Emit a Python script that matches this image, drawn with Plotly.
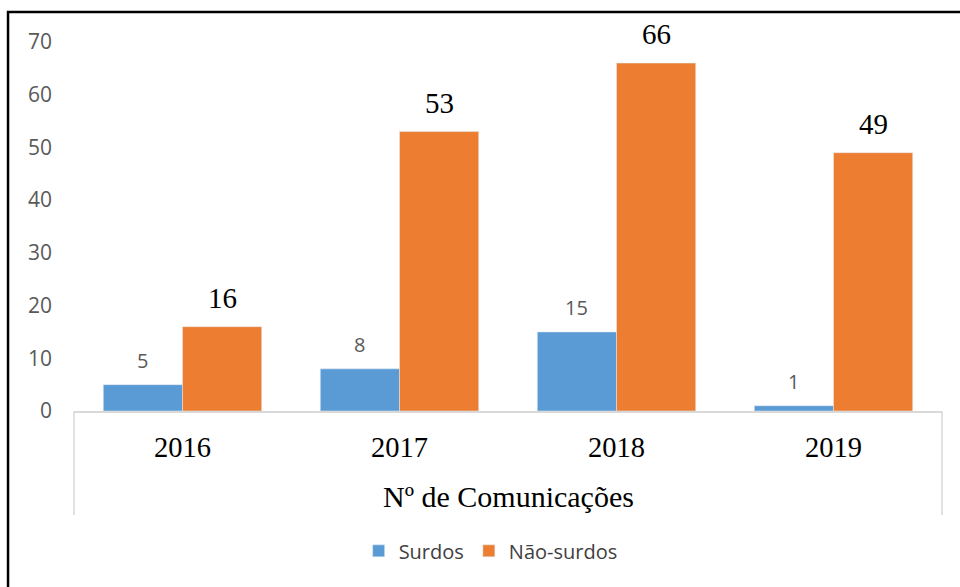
import plotly.graph_objects as go

years = ["2016", "2017", "2018", "2019"]
surdos = [5, 8, 15, 1]
nao_surdos = [16, 53, 66, 49]
y_ticks = [0, 10, 20, 30, 40, 50, 60, 70]
x_title = "Nº de Comunicações"

BLUE = "#5B9BD5"
ORANGE = "#ED7D31"
SANS = "Open Sans"
SERIF = "Liberation Serif"

PLOT_W = 960 - 74 - 18
BARGAP = 0.27
bar_px = PLOT_W / len(years) * (1 - BARGAP) / 2

fig = go.Figure()
fig.add_trace(go.Bar(x=years, y=surdos, name="Surdos", marker_color=BLUE))
fig.add_trace(go.Bar(x=years, y=nao_surdos, name="Não-surdos", marker_color=ORANGE))

# data labels (x given as category index, since years look numeric)
for i, v in enumerate(surdos):
    fig.add_annotation(x=i, y=v, xshift=-bar_px / 2, yshift=9, yanchor="bottom",
                       text=str(v), showarrow=False,
                       font=dict(family=SANS, size=20, color="#595959"))
for i, v in enumerate(nao_surdos):
    fig.add_annotation(x=i, y=v, xshift=bar_px / 2, yshift=11, yanchor="bottom",
                       text=str(v), showarrow=False,
                       font=dict(family=SERIF, size=29, color="#000000"))

fig.update_layout(
    width=960, height=587,
    margin=dict(l=74, r=18, t=42, b=176),
    paper_bgcolor="white", plot_bgcolor="white",
    barmode="group", bargap=BARGAP, bargroupgap=0,
    showlegend=True,
    legend=dict(orientation="h", x=0.48, xanchor="center", y=-0.379, yanchor="middle",
                font=dict(family=SANS, size=20, color="#404040"),
                itemwidth=30, traceorder="normal"),
    xaxis=dict(type="category", range=[-0.5, len(years) - 0.5],
               showline=True, linecolor="#D9D9D9", linewidth=1.5, showgrid=False,
               ticks="", tickfont=dict(family=SERIF, size=28.5, color="#000000"),
               ticklabelstandoff=10),
    yaxis=dict(range=[0, 70], tickvals=y_ticks, showgrid=False, showline=False, zeroline=False,
               ticks="", tickfont=dict(family=SANS, size=21, color="#595959"),
               ticklabelstandoff=21),
)

fig.add_annotation(text=x_title, xref="paper", yref="paper", x=0.5, y=-0.233,
                   showarrow=False, yanchor="middle",
                   font=dict(family=SERIF, size=30, color="#000000"))

# category box lines below the axis
for xp in [0, 1]:
    fig.add_shape(type="line", xref="paper", yref="paper", x0=xp, x1=xp, y0=0, y1=-0.282,
                  line=dict(color="#D9D9D9", width=1.5))

# outer border
fig.add_shape(type="rect", xref="paper", yref="paper", x0=-0.076, x1=1.1, y0=-0.6, y1=1.081,
              line=dict(color="#000000", width=2.5), layer="below")

fig.write_html("out.html")
